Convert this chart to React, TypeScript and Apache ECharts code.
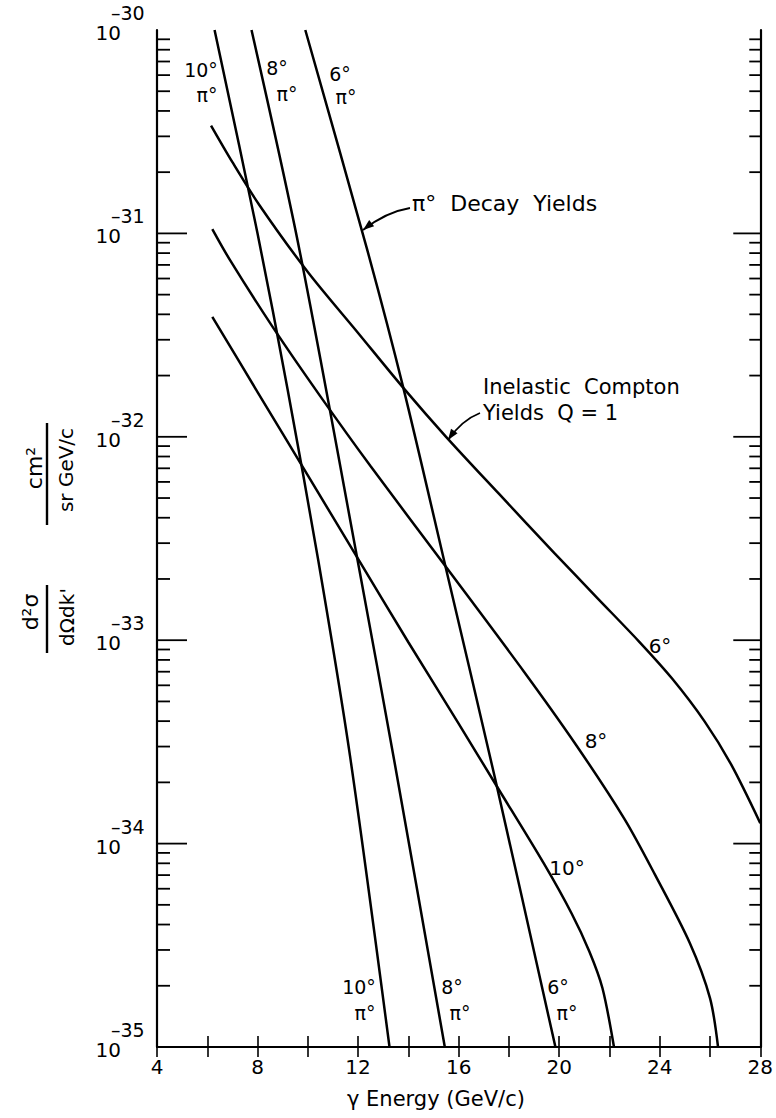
import React, { useEffect, useRef } from "react";
import * as echarts from "echarts";

const FONT = "'DejaVu Sans', sans-serif";

// Axis tick labels
const energyTickLabels = [4, 8, 12, 16, 20, 24, 28];
const yieldDecadeExponents = [-30, -31, -32, -33, -34, -35];
const minorMultipliers = [2, 3, 4, 5, 6, 7, 8, 9];

// Inelastic Compton yields, Q = 1  (energy in GeV/c, d2σ/dΩdk' in cm²/sr GeV/c)
const compton6Energy = [6.15, 7.0, 8.07, 10.0, 12.0, 13.8, 15.5, 17.6, 19.8, 21.5, 23.16, 24.5, 25.79, 26.84, 28.0];
const compton6Yield = [3.39e-31, 2.24e-31, 1.38e-31, 6.46e-32, 3.24e-32, 1.74e-32, 1.0e-32, 5.25e-33, 2.69e-33, 1.62e-33, 9.9e-34, 6.46e-34, 3.98e-34, 2.45e-34, 1.26e-34];

const compton8Energy = [6.2, 6.9, 8.6, 10.5, 12.5, 15.5, 18.6, 20.7, 22.6, 23.8, 25.2, 26.0, 26.32];
const compton8Yield = [1.05e-31, 7.41e-32, 3.47e-32, 1.58e-32, 7.16e-33, 2.29e-33, 7.0e-34, 3.02e-34, 1.32e-34, 7.08e-35, 3.24e-35, 1.74e-35, 1.0e-35];

const compton10Energy = [6.2, 8.0, 10.0, 12.0, 14.0, 16.0, 17.5, 19.4, 20.5, 21.2, 21.72, 22.18];
const compton10Yield = [3.89e-32, 1.66e-32, 6.46e-33, 2.51e-33, 9.77e-34, 3.89e-34, 1.93e-34, 7.94e-35, 4.52e-35, 2.95e-35, 1.95e-35, 1.0e-35];

// π° decay yields
const pi10Energy = [6.29, 8.0, 9.2, 10.42, 11.68, 13.25];
const pi10Yield = [1.0e-30, 1.0e-31, 1.7e-32, 2.45e-33, 2.69e-34, 1.0e-35];

const pi8Energy = [7.76, 9.65, 12.03, 13.45, 15.45];
const pi8Yield = [1.0e-30, 8.51e-32, 2.29e-33, 2.51e-34, 1.0e-35];

const pi6Energy = [9.9, 12.34, 13.8, 15.5, 17.45, 19.85];
const pi6Yield = [1.0e-30, 8.51e-32, 1.74e-32, 2.24e-33, 2.09e-34, 1.0e-35];

const curves = [
  { name: "Compton 6°", e: compton6Energy, y: compton6Yield },
  { name: "Compton 8°", e: compton8Energy, y: compton8Yield },
  { name: "Compton 10°", e: compton10Energy, y: compton10Yield },
  { name: "π° 10°", e: pi10Energy, y: pi10Yield },
  { name: "π° 8°", e: pi8Energy, y: pi8Yield },
  { name: "π° 6°", e: pi6Energy, y: pi6Yield },
];

function arrowHead(tip: number[], from: number[], len: number, half: number) {
  const dx = tip[0] - from[0];
  const dy = tip[1] - from[1];
  const d = Math.sqrt(dx * dx + dy * dy);
  const ux = dx / d, uy = dy / d;
  const bx = tip[0] - ux * len, by = tip[1] - uy * len;
  const px = -uy * half, py = ux * half;
  return [tip, [bx + px, by + py], [bx - px, by - py]];
}

function txt(text: string, x: number, y: number, size: number, align = "center", rotation = 0) {
  return {
    type: "text",
    x,
    y,
    rotation,
    silent: true,
    style: {
      text,
      fill: "#000",
      fontSize: size,
      fontFamily: FONT,
      align,
      textAlign: align,
      verticalAlign: "middle",
      textVerticalAlign: "middle",
    },
  };
}

export default function App() {
  const ref = useRef<HTMLDivElement>(null);

  useEffect(() => {
    if (!ref.current) return;
    const chart = echarts.init(ref.current, null, { renderer: "svg" });

    const tickData: number[][] = [];
    for (let d = -35; d <= -31; d++) {
      for (const m of minorMultipliers) tickData.push([4, m * Math.pow(10, d), 0]);
      if (d > -35) tickData.push([4, Math.pow(10, d), 1]);
    }
    const labelData = yieldDecadeExponents.map((d) => [4, Math.pow(10, d), d]);

    const lineSeries = curves.map((c) => ({
      type: "line",
      name: c.name,
      data: c.e.map((e, i) => [e, c.y[i]]),
      showSymbol: false,
      symbol: "none",
      smooth: 0.3,
      silent: true,
      clip: true,
      lineStyle: { color: "#000", width: 2.5 },
      z: 3,
    }));

    const decayTail = [410, 208], decayCtrl = [386, 212], decayTip = [363, 230];
    const comptonTail = [480, 413], comptonCtrl = [462, 420], comptonTip = [448, 440];

    const option: any = {
      animation: false,
      backgroundColor: "#fff",
      grid: { left: 157, right: 12, top: 30, bottom: 71, containLabel: false },
      xAxis: [
        {
          type: "value",
          min: 4,
          max: 28,
          interval: 4,
          position: "bottom",
          axisLine: { show: true, lineStyle: { color: "#000", width: 2.2 } },
          axisTick: { show: true, inside: true, length: 11, lineStyle: { color: "#000", width: 1.6 } },
          minorTick: { show: true, splitNumber: 2, length: 11, lineStyle: { color: "#000", width: 1.6 } },
          splitLine: { show: false },
          minorSplitLine: { show: false },
          axisLabel: {
            show: true,
            color: "#000",
            fontSize: 20,
            fontFamily: FONT,
            margin: 10,
            showMinLabel: true,
            showMaxLabel: true,
            formatter: (v: number) => (energyTickLabels.includes(v) ? String(v) : ""),
          },
        },
        {
          type: "value",
          min: 4,
          max: 28,
          interval: 4,
          position: "top",
          axisLine: { show: true, lineStyle: { color: "#000", width: 2.2 } },
          axisTick: { show: true, inside: true, length: 10, lineStyle: { color: "#000", width: 1.6 } },
          minorTick: { show: true, splitNumber: 2, length: 10, lineStyle: { color: "#000", width: 1.6 } },
          splitLine: { show: false },
          axisLabel: { show: false },
        },
      ],
      yAxis: [
        {
          type: "log",
          logBase: 10,
          min: 1e-35,
          max: 1e-30,
          position: "left",
          axisLine: { show: true, lineStyle: { color: "#000", width: 2.2 } },
          axisTick: { show: false },
          minorTick: { show: false },
          splitLine: { show: false },
          axisLabel: { show: false },
        },
        {
          type: "log",
          logBase: 10,
          min: 1e-35,
          max: 1e-30,
          position: "right",
          axisLine: { show: true, lineStyle: { color: "#000", width: 2.2 } },
          axisTick: { show: false },
          minorTick: { show: false },
          splitLine: { show: false },
          axisLabel: { show: false },
        },
      ],
      series: [
        ...lineSeries,
        {
          type: "custom",
          name: "yTicks",
          silent: true,
          data: tickData,
          encode: { x: 0, y: 1 },
          renderItem: (params: any, api: any) => {
            const v = api.value(1);
            const major = api.value(2) === 1;
            const p = api.coord([4, v]);
            const cs = params.coordSys;
            const l = cs.x;
            const r = cs.x + cs.width;
            const ll = major ? 30 : 13;
            const rl = major ? 27 : 11;
            return {
              type: "group",
              children: [
                { type: "line", shape: { x1: l, y1: p[1], x2: l + ll, y2: p[1] }, style: { stroke: "#000", lineWidth: 1.8 } },
                { type: "line", shape: { x1: r - rl, y1: p[1], x2: r, y2: p[1] }, style: { stroke: "#000", lineWidth: 1.8 } },
              ],
            };
          },
          z: 4,
        },
        {
          type: "custom",
          name: "yLabels",
          silent: true,
          clip: false,
          data: labelData,
          encode: { x: 0, y: 1 },
          renderItem: (params: any, api: any) => {
            const v = api.value(1);
            const exp = api.value(2);
            const p = api.coord([4, v]);
            const x0 = params.coordSys.x;
            return {
              type: "group",
              children: [
                {
                  type: "text",
                  x: x0 - 36,
                  y: p[1] + 3,
                  style: { text: "10", fill: "#000", fontSize: 20, fontFamily: FONT, align: "right", textAlign: "right", verticalAlign: "middle", textVerticalAlign: "middle" },
                },
                {
                  type: "text",
                  x: x0 - 46,
                  y: p[1] - 17,
                  style: { text: "–" + String(-exp), fill: "#000", fontSize: 19, fontFamily: FONT, align: "left", textAlign: "left", verticalAlign: "middle", textVerticalAlign: "middle" },
                },
              ],
            };
          },
          z: 4,
        },
      ],
      graphic: [
        // π° labels at the top of the decay curves
        txt("10°", 201, 70, 19),
        txt("π°", 207, 95, 19),
        txt("8°", 277, 68, 19),
        txt("π°", 287, 94, 19),
        txt("6°", 340, 74, 19),
        txt("π°", 346, 97, 19),
        // π° labels at the bottom
        txt("10°", 359, 987, 19),
        txt("π°", 365, 1013, 19),
        txt("8°", 452, 987, 19),
        txt("π°", 460, 1013, 19),
        txt("6°", 558, 987, 19),
        txt("π°", 567, 1013, 19),
        // Compton angle labels
        txt("6°", 660, 646, 20),
        txt("8°", 596, 741, 20),
        txt("10°", 567, 868, 20),
        // annotations
        txt("π°  Decay  Yields", 412, 203, 22, "left"),
        txt("Inelastic  Compton", 483, 387, 21, "left"),
        txt("Yields  Q = 1", 483, 413, 21, "left"),
        {
          type: "bezierCurve",
          silent: true,
          shape: { x1: decayTail[0], y1: decayTail[1], cpx1: decayCtrl[0], cpy1: decayCtrl[1], x2: decayTip[0], y2: decayTip[1] },
          style: { stroke: "#000", lineWidth: 1.8, fill: "none" },
        },
        {
          type: "polygon",
          silent: true,
          shape: { points: arrowHead(decayTip, decayCtrl, 11, 4) },
          style: { fill: "#000" },
        },
        {
          type: "bezierCurve",
          silent: true,
          shape: { x1: comptonTail[0], y1: comptonTail[1], cpx1: comptonCtrl[0], cpy1: comptonCtrl[1], x2: comptonTip[0], y2: comptonTip[1] },
          style: { stroke: "#000", lineWidth: 1.8, fill: "none" },
        },
        {
          type: "polygon",
          silent: true,
          shape: { points: arrowHead(comptonTip, comptonCtrl, 11, 4) },
          style: { fill: "#000" },
        },
        // axis titles
        txt("γ Energy (GeV/c)", 347, 1099, 21, "left"),
        txt("cm²", 34, 468, 22, "center", Math.PI / 2),
        { type: "line", silent: true, shape: { x1: 47, y1: 423, x2: 47, y2: 525 }, style: { stroke: "#000", lineWidth: 2.4 } },
        txt("sr GeV/c", 66, 470, 20, "center", Math.PI / 2),
        txt("d²σ", 30, 612, 22, "center", Math.PI / 2),
        { type: "line", silent: true, shape: { x1: 47, y1: 585, x2: 47, y2: 653 }, style: { stroke: "#000", lineWidth: 2.4 } },
        txt("dΩdk'", 67, 617, 20, "center", Math.PI / 2),
      ],
    };

    chart.setOption(option);
    return () => {
      chart.dispose();
    };
  }, []);

  return (
    <div
      ref={ref}
      style={{ position: "absolute", left: 0, top: 0, width: 776, height: 1118, background: "#fff" }}
    />
  );
}
